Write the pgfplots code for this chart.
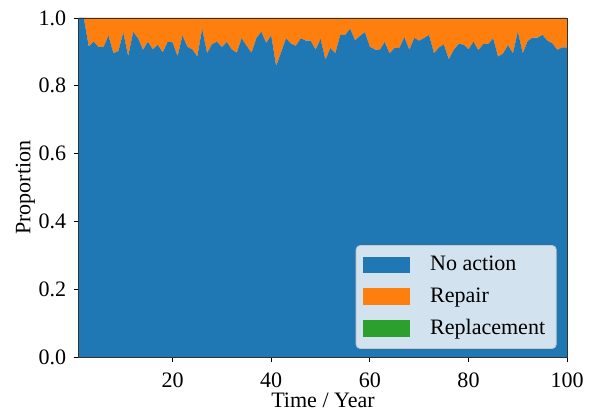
\documentclass[border=0pt]{standalone}
\usepackage{fontspec}
\setmainfont{Liberation Serif}
\usepackage{pgfplots}
\usepackage{pgfplotstable}
\pgfplotsset{compat=1.18}
\definecolor{c0}{RGB}{31,119,180}
\definecolor{c1}{RGB}{255,127,14}
\definecolor{c2}{RGB}{44,160,44}
\definecolor{legfill}{RGB}{210,226,238}
\definecolor{legedge}{RGB}{200,200,200}

% share of components per year: no action / repair / replacement
\pgfplotstableread{
year noaction repair replacement
1   1.000 0.000 0
2   1.000 0.000 0
3   0.916 0.084 0
4   0.930 0.070 0
5   0.914 0.086 0
6   0.914 0.086 0
7   0.948 0.052 0
8   0.896 0.104 0
9   0.902 0.098 0
10  0.957 0.043 0
11  0.887 0.113 0
12  0.959 0.041 0
13  0.940 0.060 0
14  0.906 0.094 0
15  0.930 0.070 0
16  0.907 0.093 0
17  0.921 0.079 0
18  0.898 0.102 0
19  0.930 0.070 0
20  0.928 0.072 0
21  0.887 0.113 0
22  0.948 0.052 0
23  0.915 0.085 0
24  0.907 0.093 0
25  0.886 0.114 0
26  0.968 0.032 0
27  0.896 0.104 0
28  0.923 0.077 0
29  0.930 0.070 0
30  0.914 0.086 0
31  0.929 0.071 0
32  0.907 0.093 0
33  0.897 0.103 0
34  0.940 0.060 0
35  0.918 0.082 0
36  0.897 0.103 0
37  0.941 0.059 0
38  0.959 0.041 0
39  0.926 0.074 0
40  0.949 0.051 0
41  0.858 0.142 0
42  0.899 0.101 0
43  0.940 0.060 0
44  0.924 0.076 0
45  0.918 0.082 0
46  0.940 0.060 0
47  0.933 0.067 0
48  0.933 0.067 0
49  0.906 0.094 0
50  0.938 0.062 0
51  0.877 0.123 0
52  0.911 0.089 0
53  0.896 0.104 0
54  0.950 0.050 0
55  0.950 0.050 0
56  0.968 0.032 0
57  0.934 0.066 0
58  0.947 0.053 0
59  0.958 0.042 0
60  0.915 0.085 0
61  0.907 0.093 0
62  0.906 0.094 0
63  0.929 0.071 0
64  0.896 0.104 0
65  0.911 0.089 0
66  0.912 0.088 0
67  0.943 0.057 0
68  0.906 0.094 0
69  0.941 0.059 0
70  0.933 0.067 0
71  0.941 0.059 0
72  0.950 0.050 0
73  0.896 0.104 0
74  0.913 0.087 0
75  0.922 0.078 0
76  0.878 0.122 0
77  0.906 0.094 0
78  0.923 0.077 0
79  0.922 0.078 0
80  0.907 0.093 0
81  0.930 0.070 0
82  0.905 0.095 0
83  0.923 0.077 0
84  0.923 0.077 0
85  0.940 0.060 0
86  0.886 0.114 0
87  0.895 0.105 0
88  0.920 0.080 0
89  0.895 0.105 0
90  0.960 0.040 0
91  0.896 0.104 0
92  0.932 0.068 0
93  0.942 0.058 0
94  0.942 0.058 0
95  0.950 0.050 0
96  0.933 0.067 0
97  0.925 0.075 0
98  0.906 0.094 0
99  0.913 0.087 0
100 0.913 0.087 0
}\shares

\begin{document}
\fontsize{10.5}{12.6}\selectfont
\begin{tikzpicture}
\begin{axis}[
    scale only axis,
    width=232.8pt, height=161.8pt,
    xmin=1, xmax=100, ymin=0, ymax=1,
    xtick={20,40,60,80,100},
    ytick={0,0.2,0.4,0.6,0.8,1.0},
    yticklabel style={/pgf/number format/.cd, fixed, fixed zerofill, precision=1},
    /pgf/number format/assume math mode=true,
    xticklabel style={yshift=-1.5pt},
    xtick pos=bottom, ytick pos=left,
    tick align=outside, major tick length=2.4pt,
    tick style={black, line width=0.4pt},
    axis line style={line width=0.4pt, black!80},
    axis on top,
    xlabel={Time / Year}, ylabel={Proportion},
    ylabel style={yshift=-5.5pt},
    xlabel style={yshift=5pt},
    stack plots=y,
    area legend,
    legend image code/.code={\fill[#1, sharp corners] (0pt,-4pt) rectangle (22.5pt,4pt);},
    legend cell align=left,
    legend style={at={(1,0)}, anchor=south east, xshift=-5pt, yshift=4pt,
        fill=legfill, draw=legedge, rounded corners=2pt,
        inner xsep=3.3pt, inner ysep=3pt, row sep=2.6pt, column sep=7.5pt,
        nodes={inner sep=2pt}},
]
\addplot[draw=none, fill=c0] table[x=year, y=noaction] {\shares} \closedcycle;
\addplot[draw=none, fill=c1] table[x=year, y=repair] {\shares} \closedcycle;
\addplot[draw=none, fill=c2] table[x=year, y=replacement] {\shares} \closedcycle;
\legend{No action, Repair, Replacement}
\end{axis}
\path (current bounding box.west) ++(-4pt,0);
\path (current bounding box.north) ++(0,1.5pt);
\end{tikzpicture}
\end{document}
